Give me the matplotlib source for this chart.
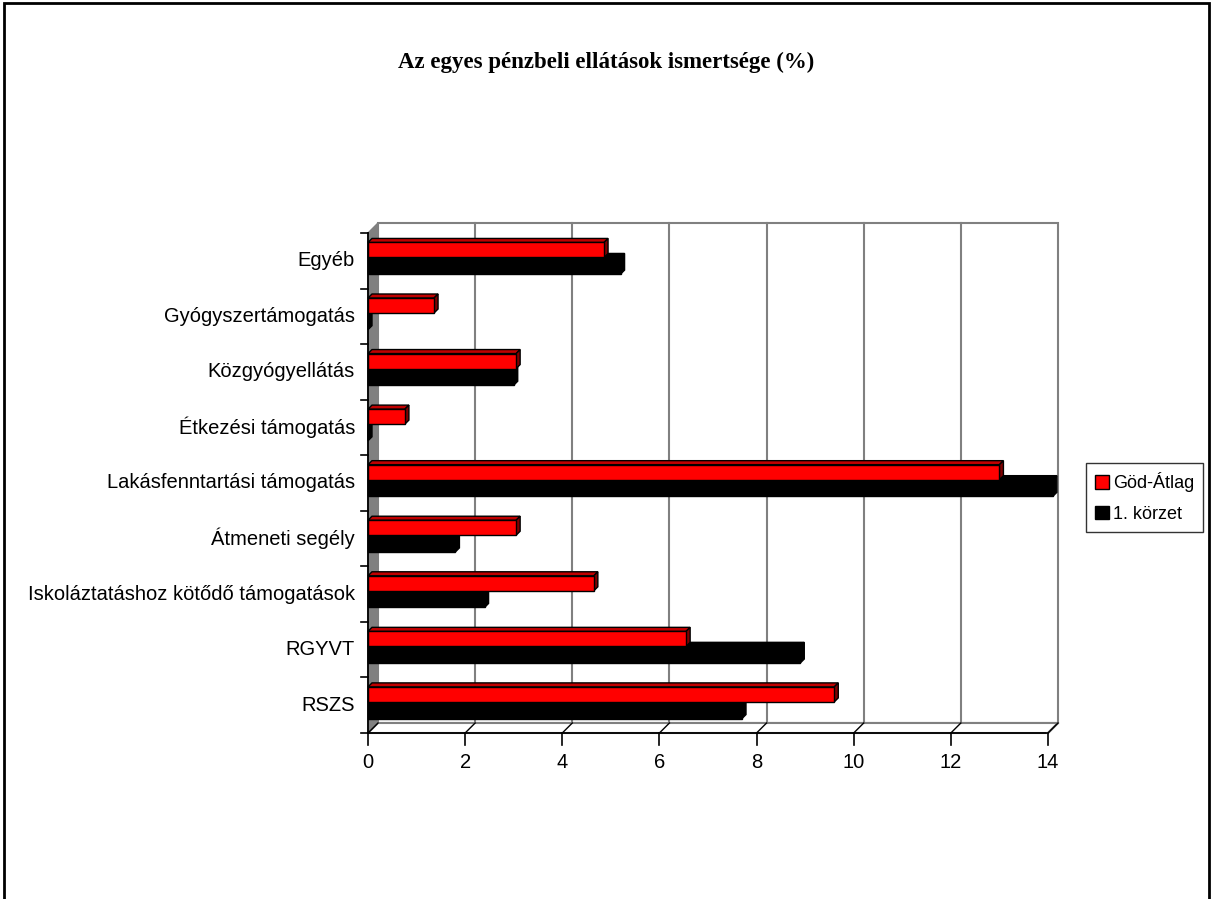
import numpy as np
import matplotlib.pyplot as plt
from matplotlib.patches import Polygon, Rectangle, Patch

# categories, bottom to top
categories = ["RSZS", "RGYVT", "Iskoláztatáshoz kötődő támogatások",
              "Átmeneti segély", "Lakásfenntartási támogatás",
              "Étkezési támogatás", "Közgyógyellátás",
              "Gyógyszertámogatás", "Egyéb"]
god_atlag = [9.6, 6.55, 4.65, 3.05, 13.0, 0.76, 3.05, 1.36, 4.86]
korzet_1 = [7.7, 8.9, 2.4, 1.8, 14.1, 0.0, 3.0, 0.0, 5.2]
xticks = [0, 2, 4, 6, 8, 10, 12, 14]

W, H = 1213, 899
fig = plt.figure(figsize=(W / 100, H / 100), dpi=100)
plt.rcParams['font.family'] = ['Liberation Sans', 'DejaVu Sans']

# front plane of the pseudo-3D plot area, in pixels
x0px, x1px = 368, 1048
ybot, ytop = 733, 233
ax = fig.add_axes([x0px / W, (H - ybot) / H, (x1px - x0px) / W, (ybot - ytop) / H])
ax.set_xlim(0, 14)
ax.set_ylim(-0.5, 8.5)
ax.axis('off')

pxx = (x1px - x0px) / 14.0
pxy = (ybot - ytop) / 9.0
DX, DY = 10 / pxx, 10 / pxy      # depth of the walls
dx, dy = 4 / pxx, 4 / pxy        # depth of a bar
gray = '#808080'
n = len(categories)
ylo, yhi = -0.5, n - 0.5

def poly(pts, fc, ec='black', lw=1.0, z=2):
    ax.add_patch(Polygon(pts, closed=True, facecolor=fc, edgecolor=ec,
                         linewidth=lw, zorder=z, clip_on=False, joinstyle='miter'))

# back wall with gridlines
poly([(DX, ylo + DY), (14 + DX, ylo + DY), (14 + DX, yhi + DY), (DX, yhi + DY)],
     'white', ec=gray, lw=1.5, z=0)
for x in xticks[1:-1]:
    ax.plot([x + DX, x + DX], [ylo + DY, yhi + DY], color=gray, lw=1.5, zorder=0.5, clip_on=False)

# floor
poly([(0, ylo), (14, ylo), (14 + DX, ylo + DY), (DX, ylo + DY)], 'white', ec=gray, lw=1.5, z=1)
# left wall
poly([(0, ylo), (0, yhi), (DX, yhi + DY), (DX, ylo + DY)], gray, ec=gray, lw=1.0, z=1)

# bars
hr, hb = 0.27, 0.30
for i in range(n):
    # black series
    v = korzet_1[i]
    y0, y1 = i - hb + 0.06, i + 0.06
    poly([(v, y0), (v, y1), (v + dx, y1 + dy), (v + dx, y0 + dy)], 'black', z=3)
    if v > 0:
        poly([(0, y1), (v, y1), (v + dx, y1 + dy), (dx, y1 + dy)], 'black', z=3)
        poly([(0, y0), (v, y0), (v, y1), (0, y1)], 'black', z=3)
    # red series
    v = god_atlag[i]
    y0, y1 = i + 0.06, i + 0.06 + hr
    poly([(0, y1), (v, y1), (v + dx, y1 + dy), (dx, y1 + dy)], '#c00000', z=4)
    poly([(v, y0), (v, y1), (v + dx, y1 + dy), (v + dx, y0 + dy)], '#800000', z=4)
    poly([(0, y0), (v, y0), (v, y1), (0, y1)], '#ff0000', z=4)

# front axes
ax.plot([0, 0], [ylo, yhi], color='black', lw=1.3, zorder=5, clip_on=False)
ax.plot([0, 14], [ylo, ylo], color='black', lw=1.3, zorder=5, clip_on=False)
ax.plot([14, 14 + DX], [ylo, ylo + DY], color=gray, lw=1.5, zorder=5, clip_on=False)
for k in range(n + 1):
    yk = ylo + k
    ax.plot([-7 / pxx, 0], [yk, yk], color='black', lw=1.2, zorder=5, clip_on=False)
for x in xticks:
    ax.plot([x, x], [ylo, ylo - 12 / pxy], color='black', lw=1.2, zorder=5, clip_on=False)
    ax.plot([x, x + DX], [ylo, ylo + DY], color='black', lw=1.0, zorder=5, clip_on=False)
    ax.text(x, ylo - 29 / pxy, str(x), ha='center', va='center', fontsize=14.5, clip_on=False)

for i, c in enumerate(categories):
    ax.text(-13 / pxx, i, c, ha='right', va='center', fontsize=14.5)

fig.text(0.5, 1 - 62 / H, 'Az egyes pénzbeli ellátások ismertsége (%)',
         ha='center', va='center', fontsize=16.5, fontweight='bold',
         family=['Liberation Serif', 'DejaVu Serif'])

handles = [Patch(facecolor='#ff0000', edgecolor='black', label='Göd-Átlag'),
           Patch(facecolor='black', edgecolor='black', label='1. körzet')]
leg = fig.legend(handles=handles, loc='upper left', bbox_to_anchor=(1086 / W, 1 - 463 / H),
                 frameon=True, fancybox=False, fontsize=13, handlelength=0.8, handleheight=0.8,
                 handletextpad=0.2, borderpad=0.5, labelspacing=0.75, borderaxespad=0)
leg.get_frame().set_edgecolor('black')
leg.get_frame().set_linewidth(1.0)

# outer chart border
fig.add_artist(Rectangle((4 / W, -0.05), 1205 / W, 1.05 - 3 / H, transform=fig.transFigure,
                         fill=False, edgecolor='black', linewidth=2.0))

fig.savefig('out.png', dpi=100)
